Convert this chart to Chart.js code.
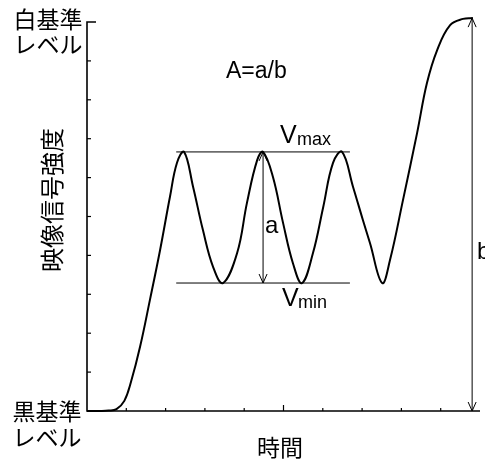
<!DOCTYPE html>
<html>
<head>
<meta charset="utf-8">
<script src="https://cdn.jsdelivr.net/npm/chart.js@4"></script>
<style>
    html, body { margin: 0; padding: 0; background: #fff; }
</style>
</head>
<body>
<canvas id="chart" width="485" height="461"></canvas>
<script>
// Time (x) and video signal level (y)
const timeValues = [0, 0.33, 0.55, 0.75, 0.95, 1.12, 1.35, 1.60, 1.86, 2.11, 2.29, 2.47,
    2.70, 2.95, 3.21, 3.46, 3.82, 4.07, 4.33, 4.48,
    4.73, 4.99, 5.24, 5.47, 5.75, 6.01, 6.26, 6.49,
    6.77, 7.02, 7.20, 7.51, 7.71, 8.04, 8.40, 8.65, 8.91, 9.24, 9.57, 9.82];
const signalValues = [0, 0, 0.01, 0.05, 0.26, 0.75, 1.65, 2.85, 4.14, 5.50, 6.38, 6.66,
    5.76, 4.65, 3.70, 3.29, 4.06, 5.35, 6.45, 6.66,
    6.02, 4.83, 3.80, 3.29, 4.06, 5.24, 6.38, 6.66,
    5.76, 4.91, 4.32, 3.29, 3.88, 5.42, 7.15, 8.43, 9.28, 9.92, 10.08, 10.10];

const xTickValues = [1, 2, 3, 4, 5, 6, 7, 8, 9];
const yTickValues = [1, 2, 3, 4, 5, 6, 7, 8, 9];

const vmaxLevel = 6.66;
const vminLevel = 3.29;
const guideRange = [2.27, 6.69];
const aArrowAt = 4.48;
const bArrowAt = 9.80;
const bTop = 10.10;

const LATIN = '"Liberation Sans", Arial, sans-serif';
const CJK = '"Noto Sans CJK JP", sans-serif';

function arrowHead(ctx, x, y, dir) {
    // dir: -1 points up, 1 points down
    ctx.beginPath();
    ctx.moveTo(x - 4, y - dir * 9);
    ctx.lineTo(x, y);
    ctx.lineTo(x + 4, y - dir * 9);
    ctx.stroke();
}

function vArrow(ctx, x, y1, y2) {
    ctx.beginPath();
    ctx.moveTo(x, y1);
    ctx.lineTo(x, y2);
    ctx.stroke();
    arrowHead(ctx, x, y1, -1);
    arrowHead(ctx, x, y2, 1);
}

const framePlugin = {
    id: 'frame',
    afterDatasetsDraw(chart) {
        const { ctx, chartArea, scales } = chart;
        const xs = scales.x, ys = scales.y;
        ctx.save();
        ctx.strokeStyle = '#000';
        ctx.lineCap = 'butt';

        // axes
        ctx.lineWidth = 1.6;
        ctx.beginPath();
        ctx.moveTo(chartArea.left + 9, chartArea.top);
        ctx.lineTo(chartArea.left, chartArea.top);
        ctx.lineTo(chartArea.left, chartArea.bottom);
        ctx.lineTo(chartArea.right, chartArea.bottom);
        ctx.stroke();

        // inward ticks
        ctx.lineWidth = 1.2;
        yTickValues.forEach(v => {
            const py = ys.getPixelForValue(v);
            ctx.beginPath();
            ctx.moveTo(chartArea.left, py);
            ctx.lineTo(chartArea.left + 4, py);
            ctx.stroke();
        });
        xTickValues.forEach(v => {
            const px = xs.getPixelForValue(v);
            ctx.beginPath();
            ctx.moveTo(px, chartArea.bottom);
            ctx.lineTo(px, chartArea.bottom - (v === 5 ? 6 : 3));
            ctx.stroke();
        });

        // Vmax / Vmin guide lines
        ctx.lineWidth = 1;
        [vmaxLevel, vminLevel].forEach(v => {
            const py = ys.getPixelForValue(v);
            ctx.beginPath();
            ctx.moveTo(xs.getPixelForValue(guideRange[0]), py);
            ctx.lineTo(xs.getPixelForValue(guideRange[1]), py);
            ctx.stroke();
        });

        // a and b arrows
        vArrow(ctx, xs.getPixelForValue(aArrowAt), ys.getPixelForValue(vmaxLevel), ys.getPixelForValue(vminLevel));
        vArrow(ctx, xs.getPixelForValue(bArrowAt), ys.getPixelForValue(bTop), ys.getPixelForValue(0));

        // labels
        ctx.fillStyle = '#000';
        ctx.textBaseline = 'alphabetic';
        ctx.textAlign = 'left';
        ctx.font = '23px ' + LATIN;
        ctx.fillText('A=a/b', 226, 78);

        ctx.font = '25px ' + LATIN;
        ctx.fillText('V', 280, 143);
        ctx.fillText('V', 282, 306);
        ctx.font = '18px ' + LATIN;
        ctx.fillText('max', 297, 145);
        ctx.fillText('min', 298, 308);

        ctx.font = '24px ' + LATIN;
        ctx.fillText('a', 265, 233);
        ctx.fillText('b', 477, 259);

        ctx.font = '23px ' + CJK;
        ctx.textAlign = 'center';
        ctx.textBaseline = 'middle';
        ctx.fillText('白基準', 48, 19);
        ctx.fillText('レベル', 48, 44);
        ctx.fillText('黒基準', 47, 411);
        ctx.fillText('レベル', 47, 437);
        ctx.fillText('時間', 280, 447);

        ctx.translate(52, 200);
        ctx.rotate(-Math.PI / 2);
        ctx.font = '24px ' + CJK;
        ctx.fillText('映像信号強度', 0, 0);
        ctx.restore();
    }
};

new Chart(document.getElementById('chart'), {
    type: 'line',
    data: {
        datasets: [{
            data: timeValues.map((t, i) => ({ x: t, y: signalValues[i] })),
            borderColor: '#000',
            borderWidth: 2,
            pointRadius: 0,
            fill: false,
            tension: 0.4,
            clip: false
        }]
    },
    options: {
        responsive: false,
        animation: false,
        layout: { padding: { left: 87, right: 5, top: 22, bottom: 50 } },
        plugins: {
            legend: { display: false },
            tooltip: { enabled: false }
        },
        scales: {
            x: { type: 'linear', min: 0, max: 10, display: false },
            y: { min: 0, max: 10, display: false }
        }
    },
    plugins: [framePlugin]
});
</script>
</body>
</html>
